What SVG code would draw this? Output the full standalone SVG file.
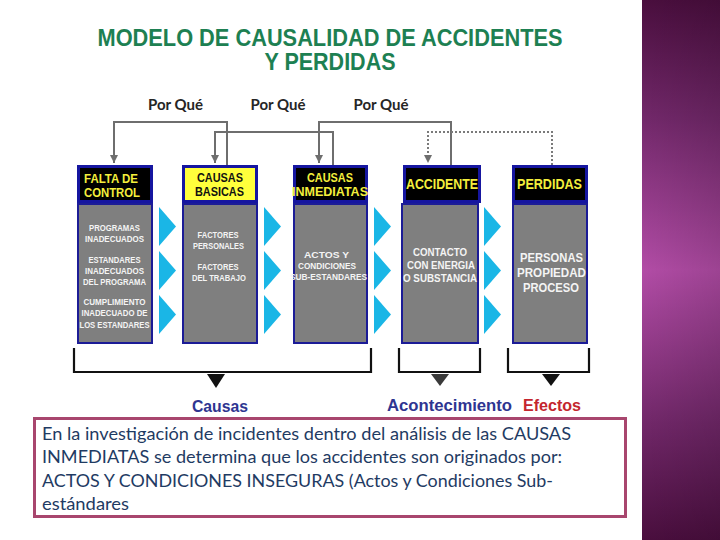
<svg xmlns="http://www.w3.org/2000/svg" width="720" height="540" viewBox="0 0 720 540">
  <defs>
    <linearGradient id="panel" x1="0" y1="0" x2="0" y2="1">
      <stop offset="0" stop-color="#4a0e3e"/>
      <stop offset="0.22" stop-color="#72286a"/>
      <stop offset="0.5" stop-color="#b24ca6"/>
      <stop offset="0.78" stop-color="#72286a"/>
      <stop offset="1" stop-color="#4a0e3e"/>
    </linearGradient>
    <linearGradient id="panelShade" x1="0" y1="0" x2="1" y2="0">
      <stop offset="0" stop-color="#000" stop-opacity="0"/>
      <stop offset="1" stop-color="#000" stop-opacity="0.12"/>
    </linearGradient>
    <marker id="arr" markerUnits="userSpaceOnUse" markerWidth="9" markerHeight="9" refX="8" refY="4" orient="auto">
      <path d="M0,0 L8,4 L0,8 z" fill="#6e6e6e"/>
    </marker>
    <polygon id="chev" points="0,0 17,19.5 0,39" fill="#1ab6e6"/>
  </defs>
  <style>
    .title { font-family: "Liberation Sans", Arial, sans-serif; font-weight: bold; font-size: 23px; fill: #1d8052; text-anchor: middle; }
    .pq { font-family: Lato, "Liberation Sans", sans-serif; font-weight: bold; font-size: 16px; fill: #262626; text-anchor: middle; }
    .hdr { fill: #000; stroke: #1616a0; stroke-width: 3; }
    .hdrY { fill: #ffff3c; stroke: #1616a0; stroke-width: 3; }
    .body { fill: #7f7f7f; stroke: #1c1c96; stroke-width: 2; }
    .ht { font-family: "Liberation Sans", Arial, sans-serif; font-weight: bold; font-size: 12px; fill: #f4ef3c; text-anchor: middle; }
    .ht1 { font-family: "Liberation Sans", Arial, sans-serif; font-weight: bold; font-size: 14px; fill: #f4ef3c; text-anchor: middle; }
    .htb { font-family: "Liberation Sans", Arial, sans-serif; font-weight: bold; font-size: 12px; fill: #111; text-anchor: middle; }
    .bt { font-family: "Liberation Sans", Arial, sans-serif; font-weight: bold; font-size: 9.5px; fill: #f4f4f4; text-anchor: middle; }
    .bt4 { font-family: "Liberation Sans", Arial, sans-serif; font-weight: bold; font-size: 11px; fill: #f4f4f4; text-anchor: middle; }
    .bt5 { font-family: "Liberation Sans", Arial, sans-serif; font-weight: bold; font-size: 13px; fill: #f4f4f4; text-anchor: middle; }
    .conn { fill: none; stroke: #6e6e6e; stroke-width: 2; }
    .dot { fill: none; stroke: #7a7a7a; stroke-width: 2; stroke-dasharray: 2 2; }
    .br { fill: none; stroke: #111; stroke-width: 2.2; }
    .lab { font-family: "Liberation Sans", Arial, sans-serif; font-weight: bold; font-size: 16px; fill: #2e3591; }
    .para { font-family: Lato, "Open Sans", sans-serif; font-size: 18px; fill: #1f3b63; }
  </style>

  <rect x="0" y="0" width="720" height="540" fill="#ffffff"/>

  <g id="side-panel">
    <rect x="642" y="0" width="78" height="540" fill="url(#panel)"/>
    <rect x="642" y="0" width="78" height="540" fill="url(#panelShade)"/>
  </g>

  <g id="title">
    <text class="title" x="330" y="46" textLength="465" lengthAdjust="spacingAndGlyphs">MODELO DE CAUSALIDAD DE ACCIDENTES</text>
    <text class="title" x="330" y="70" textLength="131" lengthAdjust="spacingAndGlyphs">Y PERDIDAS</text>
  </g>

  <g id="por-que-labels">
    <text class="pq" x="175.5" y="110" textLength="55" lengthAdjust="spacingAndGlyphs">Por Qué</text>
    <text class="pq" x="278" y="110" textLength="55" lengthAdjust="spacingAndGlyphs">Por Qué</text>
    <text class="pq" x="381" y="110" textLength="55" lengthAdjust="spacingAndGlyphs">Por Qué</text>
  </g>

  <g id="connectors">
    <path class="conn" d="M227,165 V122 H114 V163" marker-end="url(#arr)"/>
    <path class="conn" d="M333,165 V132 H215 V163" marker-end="url(#arr)"/>
    <path class="conn" d="M451,165 V122 H319 V163" marker-end="url(#arr)"/>
    <path class="dot" d="M552,165 V132 H428 V163" marker-end="url(#arr)"/>
    <use href="#chev" x="159" y="207"/>
    <use href="#chev" x="159" y="251"/>
    <use href="#chev" x="159" y="295"/>
    <use href="#chev" x="264" y="207"/>
    <use href="#chev" x="264" y="251"/>
    <use href="#chev" x="264" y="295"/>
    <use href="#chev" x="374" y="207"/>
    <use href="#chev" x="374" y="251"/>
    <use href="#chev" x="374" y="295"/>
    <use href="#chev" x="484" y="207"/>
    <use href="#chev" x="484" y="251"/>
    <use href="#chev" x="484" y="295"/>
    <path class="br" d="M74,348 V372 H371 V348"/>
    <polygon points="207,374 225,374 216,388" fill="#111"/>
    <path class="br" d="M399,348 V372 H480 V348"/>
    <polygon points="431,374 449,374 440,386" fill="#3a3a3a"/>
    <path class="br" d="M508,348 V372 H589 V348"/>
    <polygon points="542,374 560,374 551,386" fill="#111"/>
  </g>

  <g id="falta-de-control">
    <rect class="hdr" x="78.5" y="166.5" width="73" height="35"/>
    <rect class="body" x="78" y="204" width="74" height="139"/>
    <text class="ht" x="111" y="182.5" textLength="54" lengthAdjust="spacingAndGlyphs">FALTA DE</text>
    <text class="ht" x="112" y="196.5" textLength="56" lengthAdjust="spacingAndGlyphs">CONTROL</text>
    <text class="bt" x="114.5" y="230.5" textLength="51" lengthAdjust="spacingAndGlyphs">PROGRAMAS</text>
    <text class="bt" x="114.5" y="241.5" textLength="59" lengthAdjust="spacingAndGlyphs">INADECUADOS</text>
    <text class="bt" x="114.5" y="262.5" textLength="52" lengthAdjust="spacingAndGlyphs">ESTANDARES</text>
    <text class="bt" x="114.5" y="274" textLength="59" lengthAdjust="spacingAndGlyphs">INADECUADOS</text>
    <text class="bt" x="114.5" y="285" textLength="63" lengthAdjust="spacingAndGlyphs">DEL PROGRAMA</text>
    <text class="bt" x="114.5" y="305" textLength="62" lengthAdjust="spacingAndGlyphs">CUMPLIMIENTO</text>
    <text class="bt" x="114.5" y="316" textLength="66" lengthAdjust="spacingAndGlyphs">INADECUADO DE</text>
    <text class="bt" x="114.5" y="327.5" textLength="70" lengthAdjust="spacingAndGlyphs">LOS ESTANDARES</text>
  </g>

  <g id="causas-basicas">
    <rect class="hdrY" x="183.5" y="166.5" width="73" height="35"/>
    <rect class="body" x="183" y="204" width="74" height="139"/>
    <text class="htb" x="220" y="181.5" textLength="46" lengthAdjust="spacingAndGlyphs">CAUSAS</text>
    <text class="htb" x="219.5" y="195.5" textLength="49" lengthAdjust="spacingAndGlyphs">BASICAS</text>
    <text class="bt" x="218" y="237.5" textLength="41" lengthAdjust="spacingAndGlyphs">FACTORES</text>
    <text class="bt" x="218.5" y="248.5" textLength="51" lengthAdjust="spacingAndGlyphs">PERSONALES</text>
    <text class="bt" x="218" y="270" textLength="41" lengthAdjust="spacingAndGlyphs">FACTORES</text>
    <text class="bt" x="219" y="281" textLength="54" lengthAdjust="spacingAndGlyphs">DEL TRABAJO</text>
  </g>

  <g id="causas-inmediatas">
    <rect class="hdr" x="294.5" y="166.5" width="72" height="35"/>
    <rect class="body" x="294" y="204" width="73" height="139"/>
    <text class="ht" x="330" y="181.5" textLength="46" lengthAdjust="spacingAndGlyphs">CAUSAS</text>
    <text class="ht" x="330" y="195.5" textLength="76" lengthAdjust="spacingAndGlyphs">INMEDIATAS</text>
    <text class="bt" x="326.5" y="258" textLength="45" lengthAdjust="spacingAndGlyphs">ACTOS Y</text>
    <text class="bt" x="327" y="268.5" textLength="58" lengthAdjust="spacingAndGlyphs">CONDICIONES</text>
    <text class="bt" x="328.5" y="279.5" textLength="77" lengthAdjust="spacingAndGlyphs">SUB-ESTANDARES</text>
  </g>

  <g id="accidente">
    <rect class="hdr" x="404.5" y="166.5" width="75" height="35"/>
    <rect class="body" x="402" y="204" width="76" height="139"/>
    <text class="ht1" x="442" y="189" textLength="72" lengthAdjust="spacingAndGlyphs">ACCIDENTE</text>
    <text class="bt4" x="440" y="256" textLength="54" lengthAdjust="spacingAndGlyphs">CONTACTO</text>
    <text class="bt4" x="441" y="268.5" textLength="68" lengthAdjust="spacingAndGlyphs">CON ENERGIA</text>
    <text class="bt4" x="440" y="281.5" textLength="74" lengthAdjust="spacingAndGlyphs">O SUBSTANCIA</text>
  </g>

  <g id="perdidas">
    <rect class="hdr" x="513.5" y="166.5" width="73" height="35"/>
    <rect class="body" x="513" y="204" width="74" height="139"/>
    <text class="ht1" x="549.5" y="189" textLength="65" lengthAdjust="spacingAndGlyphs">PERDIDAS</text>
    <text class="bt5" x="551.5" y="261.5" textLength="63" lengthAdjust="spacingAndGlyphs">PERSONAS</text>
    <text class="bt5" x="551.5" y="276.5" textLength="69" lengthAdjust="spacingAndGlyphs">PROPIEDAD</text>
    <text class="bt5" x="551" y="291.5" textLength="56" lengthAdjust="spacingAndGlyphs">PROCESO</text>
  </g>

  <g id="bottom-labels">
    <text class="lab" x="192" y="412" textLength="56" lengthAdjust="spacingAndGlyphs">Causas</text>
    <text class="lab" x="387" y="411" textLength="125" lengthAdjust="spacingAndGlyphs">Acontecimiento</text>
    <text class="lab" x="523" y="411" textLength="58" lengthAdjust="spacingAndGlyphs" style="fill:#c4262e">Efectos</text>
  </g>

  <g id="note-box">
    <rect x="34.5" y="418.5" width="591" height="98" fill="#ffffff" stroke="#a8466e" stroke-width="3"/>
    <text class="para" x="42" y="440" textLength="529" lengthAdjust="spacingAndGlyphs">En la investigación de incidentes dentro del análisis de las CAUSAS</text>
    <text class="para" x="42" y="463" textLength="520" lengthAdjust="spacingAndGlyphs">INMEDIATAS  se determina que los accidentes son originados por:</text>
    <text class="para" x="42" y="487" textLength="511" lengthAdjust="spacingAndGlyphs">ACTOS Y CONDICIONES INSEGURAS (Actos y Condiciones Sub-</text>
    <text class="para" x="42" y="510" textLength="87" lengthAdjust="spacingAndGlyphs">estándares</text>
  </g>
</svg>
